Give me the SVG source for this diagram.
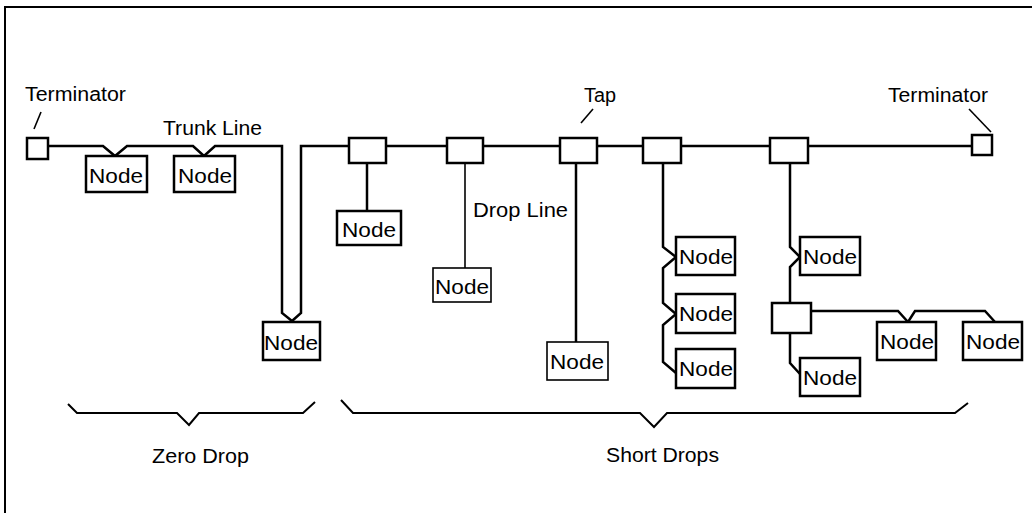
<svg xmlns="http://www.w3.org/2000/svg" width="1032" height="513" viewBox="0 0 1032 513">
<style>
.w{fill:none;stroke:#000;stroke-width:2.5;stroke-linejoin:miter}
.thin{stroke-width:1.6}
.br{stroke-width:2}
.box{fill:#fff;stroke:#000;stroke-width:2.5}
.tbox{fill:#fff;stroke:#000;stroke-width:1.6}
.t{font-family:"Liberation Sans",Arial,sans-serif;font-size:20px;fill:#000}
.nt{font-family:"Liberation Sans",Arial,sans-serif;font-size:21px;fill:#000;text-anchor:middle}
</style>
<rect width="1032" height="513" fill="#fff"/>
<path d="M5,513 V7 H1032" fill="none" stroke="#000" stroke-width="2"/>
<g id="connectors">
<path class="w" d="M48,146 H103 L115,156 L127,146 H193 L204,156 L215,146 H282 V313 L292,321"/>
<path class="w" d="M292,321 L301,313 V146 H972"/>
<path class="w" d="M367,163 V211"/>
<path class="w thin" d="M465,163 V268"/>
<path class="w" d="M576,163 V342"/>
<path class="w" d="M663,163 V247 L676,257 L663,268 V303 L676,314 L663,325 V362 L676,373"/>
<path class="w" d="M790,163 V247 L800,257 L790,267 V303"/>
<path class="w" d="M790,333 V363 L800,374"/>
<path class="w" d="M811,311 H898 L908,322 L915,311 H985 L995,322"/>
<path class="w thin" d="M34,129 L41,112"/>
<path class="w thin" d="M581,123 L593,109"/>
<path class="w thin" d="M969,109 L991,132"/>
<path class="w br" d="M68,404 L77,413 H177 L189,425 L199,413 H303 L315,402"/>
<path class="w br" d="M341,400 L353,413 H640 L654,427 L667,413 H955 L968,403"/>
</g>
<g id="terminator-left"><rect class="box" x="27" y="138" width="21" height="21"/></g>
<g id="terminator-right"><rect class="box" x="972" y="135" width="20" height="20"/></g>
<g id="tap1"><rect class="box" x="349" y="138" width="37" height="25"/></g>
<g id="tap2"><rect class="box" x="447" y="138" width="36" height="25"/></g>
<g id="tap3"><rect class="box" x="560" y="138" width="37" height="25"/></g>
<g id="tap4"><rect class="box" x="643" y="138" width="38" height="25"/></g>
<g id="tap5"><rect class="box" x="770" y="138" width="38" height="25"/></g>
<g id="tap6"><rect class="box" x="772" y="303" width="39" height="30"/></g>
<g id="node1"><rect class="box" x="86" y="156" width="61" height="36"/><text class="nt" x="116" y="183" textLength="54" lengthAdjust="spacingAndGlyphs">Node</text></g>
<g id="node2"><rect class="box" x="174" y="156" width="61" height="36"/><text class="nt" x="205" y="183" textLength="54" lengthAdjust="spacingAndGlyphs">Node</text></g>
<g id="node3"><rect class="box" x="263" y="322" width="57" height="38"/><text class="nt" x="291" y="350" textLength="54" lengthAdjust="spacingAndGlyphs">Node</text></g>
<g id="node4"><rect class="box" x="337" y="211" width="64" height="34"/><text class="nt" x="369" y="237" textLength="54" lengthAdjust="spacingAndGlyphs">Node</text></g>
<g id="node5"><rect class="tbox" x="433" y="268" width="58" height="34"/><text class="nt" x="462" y="294" textLength="54" lengthAdjust="spacingAndGlyphs">Node</text></g>
<g id="node6"><rect class="tbox" x="547" y="342" width="61" height="38"/><text class="nt" x="577" y="369" textLength="54" lengthAdjust="spacingAndGlyphs">Node</text></g>
<g id="node7"><rect class="box" x="676" y="237" width="59" height="38"/><text class="nt" x="706" y="264" textLength="54" lengthAdjust="spacingAndGlyphs">Node</text></g>
<g id="node8"><rect class="box" x="676" y="294" width="59" height="39"/><text class="nt" x="706" y="321" textLength="54" lengthAdjust="spacingAndGlyphs">Node</text></g>
<g id="node9"><rect class="box" x="676" y="349" width="59" height="39"/><text class="nt" x="706" y="376" textLength="54" lengthAdjust="spacingAndGlyphs">Node</text></g>
<g id="node10"><rect class="box" x="800" y="237" width="60" height="38"/><text class="nt" x="830" y="264" textLength="54" lengthAdjust="spacingAndGlyphs">Node</text></g>
<g id="node11"><rect class="box" x="800" y="358" width="60" height="38"/><text class="nt" x="830" y="385" textLength="54" lengthAdjust="spacingAndGlyphs">Node</text></g>
<g id="node12"><rect class="box" x="877" y="322" width="59" height="38"/><text class="nt" x="907" y="349" textLength="54" lengthAdjust="spacingAndGlyphs">Node</text></g>
<g id="node13"><rect class="box" x="963" y="322" width="59" height="38"/><text class="nt" x="993" y="349" textLength="54" lengthAdjust="spacingAndGlyphs">Node</text></g>
<g id="labels">
<text class="t" x="25" y="101" font-size="18" textLength="101" lengthAdjust="spacingAndGlyphs">Terminator</text>
<text class="t" x="888" y="102" font-size="18" textLength="100" lengthAdjust="spacingAndGlyphs">Terminator</text>
<text class="t" x="163" y="135" textLength="99" lengthAdjust="spacingAndGlyphs">Trunk Line</text>
<text class="t" x="584" y="102" textLength="32" lengthAdjust="spacingAndGlyphs">Tap</text>
<text class="t" x="473" y="217" textLength="95" lengthAdjust="spacingAndGlyphs">Drop Line</text>
<text class="t" x="152" y="463" textLength="97" lengthAdjust="spacingAndGlyphs">Zero Drop</text>
<text class="t" x="606" y="462" textLength="113" lengthAdjust="spacingAndGlyphs">Short Drops</text>
</g>
</svg>
